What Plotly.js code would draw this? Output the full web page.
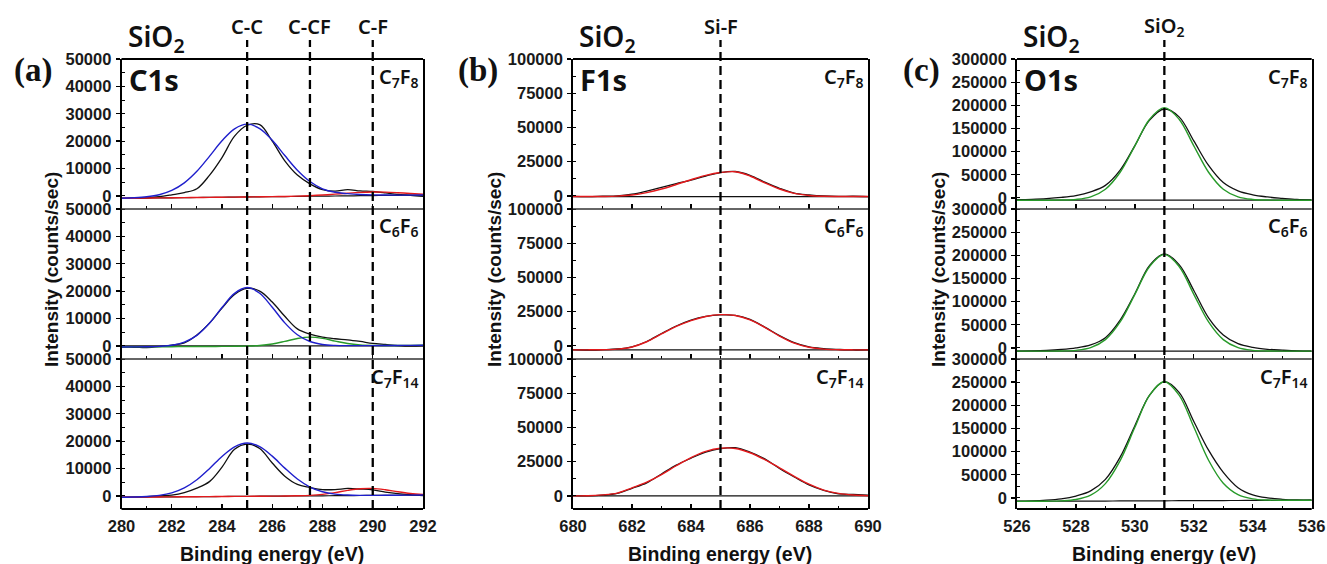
<!DOCTYPE html>
<html><head><meta charset="utf-8">
<script src="https://cdn.plot.ly/plotly-3.0.1.min.js"></script>
<style>html,body{margin:0;padding:0;background:#fff;} #chart{width:1327px;height:564px;}</style>
</head><body><div id="chart"></div>
<script>
// ---------- DATA ----------
// Panel (a) C1s
const xA = [280,280.5,281,281.5,282,282.5,283,283.5,284,284.5,285,285.5,286,286.5,287,287.5,288,288.5,289,289.5,290,290.5,291,291.5,292];
const aTopBase = [-900,-850,-800,-750,-700,-650,-600,-550,-500,-450,-400,-350,-300,-250,-200,-150,-100,-50,0,50,100,150,200,250,300];
const aTopData = [-900,-850,-700,-300,400,1200,2600,7500,14000,21800,25800,26000,20000,12800,7600,4400,2300,1700,2300,1800,1600,1100,500,200,-200];
const aTopCC   = [-855,-698,-348,420,1987,4750,8976,14426,20115,24500,26200,24600,20315,14726,9376,5250,2587,1300,800,500,350,300,280,280,300];
const aTopCF   = [-900,-850,-800,-750,-700,-650,-600,-550,-500,-450,-400,-347,-289,-215,-109,55,298,618,967,1257,1400,1357,1150,880,600];

const aMidBase = [0,0,0,0,0,0,0,0,0,0,0,0,0,0,0,0,0,0,0,0,0,0,0,0,0];
const aMidData = [-500,-500,-650,-300,300,1100,4000,8300,13800,18800,21000,20000,16000,10800,6200,4300,3200,2600,2200,1600,900,500,100,-100,0];
const aMidCC   = [-400,-375,-322,-190,221,1347,3847,8248,14000,19175,21300,19225,14100,8398,4047,1597,521,160,78,75,100,125,150,175,200];
const aMidCCF  = [-400,-375,-350,-325,-300,-275,-250,-225,-200,-163,-83,146,698,1651,2693,3175,2743,1751,848,346,167,137,150,175,200];

const aBotBase = [-500,-470,-430,-400,-370,-330,-300,-270,-230,-200,-170,-130,-100,-70,-30,0,30,70,100,130,170,200,230,270,300];
const aBotData = [-500,-450,-300,0,300,1200,2800,5200,10500,17000,18900,17300,12000,7200,4200,3100,2300,2300,2700,2500,2200,1400,800,400,100];
const aBotCC   = [-485,-412,-233,179,1102,2905,5875,9930,14390,17930,19300,18000,14520,10130,6145,3235,1502,649,297,188,185,200,230,270,300];
const aBotCF   = [-500,-470,-430,-400,-370,-330,-300,-270,-230,-200,-170,-130,-100,-59,22,184,545,1187,1988,2616,2718,2235,1496,883,531];

// Panel (b) F1s
const xB = [680,680.5,681,681.5,682,682.5,683,683.5,684,684.5,685,685.5,686,686.5,687,687.5,688,688.5,689,689.5,690];
const bTopBase = [-500,-500,-500,-500,-500,-500,-500,-500,-500,-500,-500,-500,-500,-500,-500,-500,-500,-500,-500,-500,-500];
const bTopData = [-400,-600,-300,0,1200,3500,6200,8900,11500,14500,17000,17800,15000,10000,5500,2000,700,-100,-400,-300,-600];
const bTopSiF  = [-500,-500,-450,-200,600,2400,5000,8300,11800,15000,17100,17600,14500,9500,5000,1800,300,-300,-450,-500,-500];

const bMidBase = [-2900,-2900,-2900,-2900,-2900,-2900,-2900,-2900,-2900,-2900,-2900,-2900,-2900,-2900,-2900,-2900,-2900,-2900,-2900,-2900,-2900];
const bMidData = [-2800,-3100,-2800,-2300,-700,3200,9000,14500,18800,21500,22600,22300,19300,13700,7500,2300,-800,-2000,-2600,-3000,-2900];
const bMidSiF  = [-2900,-2900,-2800,-2400,-800,3000,8700,14200,18500,21500,22800,22200,19000,13500,7200,2000,-1000,-2400,-2800,-2900,-2900];

const bBotBase = [0,0,0,0,0,0,0,0,0,0,0,0,0,0,0,0,0,0,0,0,0];
const bBotData = [200,0,500,1800,5500,9500,16000,22500,27500,32000,34500,35200,32000,27000,20000,13800,8000,4000,1500,1000,500];
const bBotSiF  = [0,100,700,2000,5800,10000,15500,22000,28000,32500,34800,34600,31500,26500,20500,14300,8500,4200,1800,600,100];

// Panel (c) O1s
const xC = [526,526.5,527,527.5,528,528.5,529,529.5,530,530.5,531,531.5,532,532.5,533,533.5,534,534.5,535,535.5,536];
const cTopBase = [-5000,-5000,-5000,-5000,-5000,-5000,-5000,-5000,-5000,-5000,-5000,-5000,-5000,-5000,-5000,-5000,-5000,-5000,-5000,-5000,-5000];
const cTopData = [-4000,-3000,-1500,1000,5000,13000,27000,60000,113000,168000,192000,175000,123000,70000,33000,15000,6500,2000,-1000,-3500,-4500];
const cTopSiO2 = [-5000,-5000,-4960,-4700,-3340,2200,18800,55400,112400,170000,195000,170000,112400,55400,18800,2200,-3340,-4700,-4960,-5000,-5000];

const cMidBase = [-7000,-7000,-7000,-7000,-7000,-7000,-7000,-7000,-7000,-7000,-7000,-7000,-7000,-7000,-7000,-7000,-7000,-7000,-7000,-7000,-7000];
const cMidData = [-7000,-6500,-5500,-3500,0,6500,22000,60000,117000,178000,203000,180000,124000,65000,28000,9000,1000,-3000,-5000,-6500,-7000];
const cMidSiO2 = [-7000,-7000,-6960,-6690,-5270,520,17900,56100,115700,175900,202000,175900,115700,56100,17900,520,-5270,-6690,-6960,-7000,-7000];

const cBotBase = [-7500,-7400,-7300,-7100,-7000,-6900,-6800,-6600,-6500,-6400,-6300,-6100,-6000,-5900,-5800,-5600,-5500,-5400,-5300,-5100,-5000];
const cBotData = [-7000,-6500,-5000,-2000,4000,15000,40000,88000,156000,222000,251000,228000,165000,103000,55000,22000,6500,0,-3000,-4500,-5000];
const cBotSiO2 = [-7500,-7380,-7170,-6380,-3600,5800,30800,80600,152500,221800,251000,222100,153000,81300,31800,7100,-2100,-4680,-5170,-5100,-5000];

// Reference peak positions and labels
const peaksA = [285, 287.5, 290]; const peakLabelsA = ['C-C','C-CF','C-F'];
const peaksB = [685];             const peakLabelsB = ['Si-F'];
const peaksC = [531];             const peakLabelsC = ['SiO<sub>2</sub>'];
const sampleLabels = ['C<sub>7</sub>F<sub>8</sub>','C<sub>6</sub>F<sub>6</sub>','C<sub>7</sub>F<sub>14</sub>'];
const panelLetters = ['(a)','(b)','(c)'];
const coreLevels = ['C1s','F1s','O1s'];
const substrate = 'SiO<sub>2</sub>';
const yTitle = 'Intensity (counts/sec)';
const xTitle = 'Binding energy (eV)';

// ---------- LAYOUT ----------
const W=1327, H=564, MT=59, MB=55, PH=H-MT-MB;
const px = v => v/W;
const py = v => (H-MB-v)/PH;

const BLACK='#111', BLUE='#1f1fcc', RED='#e3191c', GREEN='#289a2a';

const panels = [
  {x:xA, dom:[121.5,423], xr:[280,292], yr:[-4800,50000], dt:10000, mdt:5000, peaks:peaksA, plabels:peakLabelsA,
   letterX:33, titleX:51,
   rows:[[aTopBase,BLACK,1.2],[aTopData,BLACK,1.3],[aTopCF,RED,1.4],[aTopCC,BLUE,1.4]],
   rows2:[[aMidBase,BLACK,1.2],[aMidData,BLACK,1.3],[aMidCCF,GREEN,1.4],[aMidCC,BLUE,1.4]],
   rows3:[[aBotBase,BLACK,1.2],[aBotData,BLACK,1.3],[aBotCF,RED,1.4],[aBotCC,BLUE,1.4]]},
  {x:xB, dom:[573,868], xr:[680,690], yr:[-9600,100000], dt:25000, mdt:12500, peaks:peaksB, plabels:peakLabelsB,
   letterX:478, titleX:494,
   rows:[[bTopBase,BLACK,1.2],[bTopData,BLACK,1.3],[bTopSiF,RED,1.4]],
   rows2:[[bMidBase,BLACK,1.2],[bMidData,BLACK,1.3],[bMidSiF,RED,1.4]],
   rows3:[[bBotBase,BLACK,1.2],[bBotData,BLACK,1.3],[bBotSiF,RED,1.4]]},
  {x:xC, dom:[1017,1311.7], xr:[526,536], yr:[-24000,300000], dt:50000, mdt:25000, peaks:peaksC, plabels:peakLabelsC,
   letterX:921, titleX:938,
   rows:[[cTopBase,BLACK,1.2],[cTopData,BLACK,1.3],[cTopSiO2,GREEN,1.4]],
   rows2:[[cMidBase,BLACK,1.2],[cMidData,BLACK,1.3],[cMidSiO2,GREEN,1.4]],
   rows3:[[cBotBase,BLACK,1.2],[cBotData,BLACK,1.3],[cBotSiO2,GREEN,1.4]]}
];

const tickFont = {family:'Liberation Sans, Arial, sans-serif', size:16.5, weight:'bold', color:'#1a1a1a'};
const traces = [];
const layout = {
  width:W, height:H, margin:{l:0,r:0,t:MT,b:MB}, showlegend:false,
  paper_bgcolor:'#fff', plot_bgcolor:'#fff', annotations:[], shapes:[]
};
const rowDom = [[2/3,1],[1/3,2/3],[0,1/3]];
const rowTop = [MT, MT+150, MT+300];

panels.forEach((p,pi)=>{
  const rowsets=[p.rows,p.rows2,p.rows3];
  rowsets.forEach((rs,ri)=>{
    const n = pi*3+ri+1;
    const xa = n===1?'x':'x'+n, ya = n===1?'y':'y'+n;
    rs.forEach(([y,c,w])=>{
      traces.push({x:p.x, y:y, xaxis:xa, yaxis:ya, type:'scatter', mode:'lines',
        line:{color:c, width:w, shape:'spline', smoothing:1}, hoverinfo:'skip'});
    });
    layout[n===1?'xaxis':'xaxis'+n] = {
      domain:[px(p.dom[0]),px(p.dom[1])], range:p.xr, anchor:ya,
      showline:false,
      ticks:'inside', ticklen:5, tickwidth:1.3, tickcolor:'#000', dtick:2, tick0:p.xr[0],
      minor:{ticks:'inside', ticklen:3, tickwidth:1, dtick:1, tickcolor:'#000'},
      showticklabels: ri===2, tickfont:tickFont, ticklabelstandoff:5,
      showgrid:false, zeroline:false, fixedrange:true
    };
    layout[n===1?'yaxis':'yaxis'+n] = {
      domain:rowDom[ri], range:p.yr, anchor:xa,
      showline:true, mirror:true, linecolor:'#000', linewidth:1.8,
      ticks:'outside', ticklen:4, tickwidth:1.3, tickcolor:'#000', dtick:p.dt, tick0:0,
      minor:{ticks:'inside', ticklen:3, tickwidth:1, dtick:p.mdt, tickcolor:'#000'},
      tickfont:tickFont, ticklabelstandoff:1, tickformat:'d',
      showgrid:false, zeroline:false, fixedrange:true
    };
    // sample label
    layout.annotations.push({xref:'paper', yref:'paper', x:px(p.dom[1]-2), y:py(rowTop[ri]+18),
      xanchor:'right', yanchor:'middle', showarrow:false, text:sampleLabels[ri],
      font:{family:'Noto Sans, sans-serif', size:20, weight:600, color:'#111'}});
  });
  const bx = pi*3+3;
  const L = p.dom[0], R = p.dom[1];
  // frame: outer top/bottom lines and inner dividers
  [[0,'#000',2],[1,'#000',2],[1/3,'#333',1.4],[2/3,'#333',1.4]].forEach(([yy,c,w])=>{
    layout.shapes.push({type:'line', xref:'paper', yref:'paper', x0:px(L), x1:px(R), y0:yy, y1:yy,
      line:{color:c, width:w}, layer:'above'});
  });
  // dashed reference lines
  p.peaks.forEach((pk,k)=>{
    layout.shapes.push({type:'line', xref:'x'+bx, yref:'paper', x0:pk, x1:pk, y0:0, y1:py(40),
      line:{color:'#000', width:2.3, dash:'9px,5px'}, layer:'above'});
    layout.annotations.push({xref:'x'+bx, yref:'paper', x:pk, y:py(27), xanchor:'center', yanchor:'middle',
      showarrow:false, text:p.plabels[k], font:{family:'Noto Sans, sans-serif', size:20, weight:600, color:'#111'}});
  });
  // panel letter
  layout.annotations.push({xref:'paper', yref:'paper', x:px(p.letterX), y:py(71), xanchor:'center', yanchor:'middle',
    showarrow:false, text:panelLetters[pi], font:{family:'Liberation Serif, Times New Roman, serif', size:33, weight:'bold', color:'#111'}});
  // substrate header
  layout.annotations.push({xref:'paper', yref:'paper', x:px(L+4), y:py(38), xanchor:'left', yanchor:'middle',
    showarrow:false, text:substrate, font:{family:'Noto Sans, sans-serif', size:28, weight:600, color:'#111'}});
  // core level
  layout.annotations.push({xref:'paper', yref:'paper', x:px(L+5), y:py(80), xanchor:'left', yanchor:'middle',
    showarrow:false, text:coreLevels[pi], font:{family:'Noto Sans, sans-serif', size:29, weight:'bold', color:'#111'}});
  // y title
  layout.annotations.push({xref:'paper', yref:'paper', x:px(p.titleX), y:py(270), xanchor:'center', yanchor:'middle',
    textangle:-90, showarrow:false, text:yTitle, font:{family:'Liberation Sans, Arial, sans-serif', size:19, weight:'bold', color:'#111'}});
  // x title
  layout.annotations.push({xref:'paper', yref:'paper', x:px((L+R)/2), y:py(554), xanchor:'center', yanchor:'middle',
    showarrow:false, text:xTitle, font:{family:'Liberation Sans, Arial, sans-serif', size:19.5, weight:'bold', color:'#111'}});
});

Plotly.newPlot('chart', traces, layout, {staticPlot:true, displayModeBar:false});
</script></body></html>
